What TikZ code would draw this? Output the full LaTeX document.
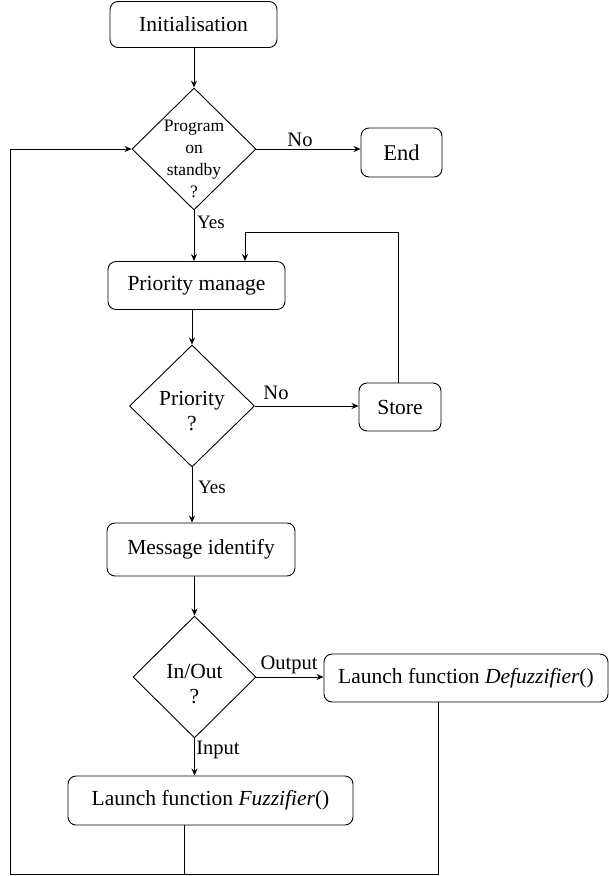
\documentclass[tikz,border=0pt]{standalone}
\usepackage{fontspec}
\setmainfont{Liberation Serif}
\usetikzlibrary{shapes.geometric,arrows.meta}
\tikzset{
  box/.style={draw, line width=0.9pt, rounded corners=8pt, inner sep=0pt,
              font=\fontsize{21.5}{24}\selectfont},
  dia/.style={draw, line width=0.9pt, diamond, inner sep=0pt,
              minimum width=124pt, minimum height=122pt},
  diatext/.style={align=center, inner sep=0pt},
  lbl/.style={inner sep=0pt, font=\fontsize{20.5}{23}\selectfont},
  line/.style={line width=0.9pt},
  arr/.style={line width=0.9pt, -{Stealth[length=7pt,width=6pt]}}
}
\begin{document}
\begin{tikzpicture}[x=1pt,y=-1pt]
\useasboundingbox (0,0) rectangle (609,876);

% process boxes
\node[box, minimum width=167pt, minimum height=46pt] (init) at (193.5,24.5) {Initialisation};
\node[box, minimum width=81pt, minimum height=49pt, font=\fontsize{22.5}{24}\selectfont] (stop) at (401.5,152.5) {End};
\node[box, minimum width=177pt, minimum height=48pt] (pm) at (196.5,285.5) {Priority manage};
\node[box, minimum width=82pt, minimum height=48pt] (store) at (400,407) {Store};
\node[box, minimum width=188pt, minimum height=53pt] (msg) at (201,549.5) {Message identify};
\node[box, minimum width=284pt, minimum height=48pt] (defz) at (466,678) {Launch function \textit{Defuzzifier}()};
\node[box, minimum width=285pt, minimum height=49pt] (fuzz) at (210.5,800.5) {Launch function \textit{Fuzzifier}()};

% decisions
\node[dia] (d1) at (194,149) {};
\node[diatext, font=\fontsize{17.5}{22}\selectfont] (d1t) at (194,159) {Program\\on\\standby\\?};
\node[dia, minimum width=125pt] (d2) at (192,406) {};
\node[diatext, font=\fontsize{21.5}{25}\selectfont] (d2t) at (192,411) {Priority\\?};
\node[dia, minimum width=123pt] (d3) at (194.5,677) {};
\node[diatext, font=\fontsize{21.5}{25}\selectfont] (d3t) at (194.5,684) {In/Out\\?};

% main flow
\draw[arr] (init.south -| d1.north) -- (d1.north);
\draw[arr] (d1.east) -- (d1.east -| stop.west);
\draw[arr] (d1.south) -- (d1.south |- pm.north);
\draw[arr] (pm.south -| d2.north) -- (d2.north);
\draw[arr] (d2.east) -- (d2.east -| store.west);
\draw[arr] (d2.south) -- (d2.south |- msg.north);
\draw[arr] (msg.south -| d3.north) -- (d3.north);
\draw[arr] (d3.east) -- (d3.east -| defz.west);
\draw[arr] (d3.south) -- (d3.south |- fuzz.north);

% store loops back to priority manage
\draw[arr] ([xshift=-2pt]store.north) |- ([xshift=48.5pt,yshift=29pt]pm.north) -- ([xshift=48.5pt]pm.north);

% both launch functions return to the standby test
\coordinate (lb) at (10,874);
\draw[line] ([xshift=-28pt]defz.south) |- (lb);
\draw[arr] ([xshift=-26.5pt]fuzz.south) |- (lb) |- (d1.west);

% branch labels
\node[lbl] (l1) at (300,140) {No};
\node[lbl, font=\fontsize{19}{22}\selectfont] (l2) at (211,222) {Yes};
\node[lbl] (l3) at (276,393) {No};
\node[lbl, font=\fontsize{19}{22}\selectfont] (l4) at (212,487) {Yes};
\node[lbl] (l5) at (289,665) {Output};
\node[lbl] (l6) at (218,750) {Input};
\end{tikzpicture}
\end{document}
